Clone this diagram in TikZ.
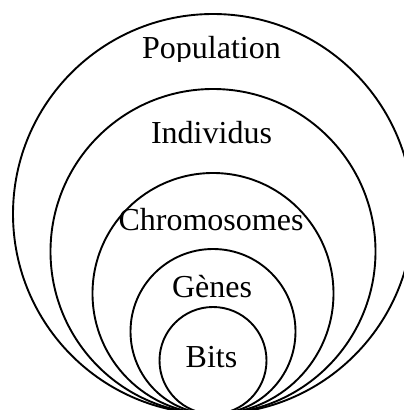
\documentclass[tikz,border=0pt]{standalone}
\usepackage{fontspec}
\setmainfont{Liberation Serif}
\begin{document}
\begin{tikzpicture}[x=1pt,y=-1pt,
  ring/.style={draw,circle,line width=1.9pt,inner sep=0pt},
  lbl/.style={anchor=base,inner sep=0pt,font=\fontsize{32}{36}\selectfont}]
\useasboundingbox (0,0) rectangle (404,410);
\clip (0,0) rectangle (404,410);
\node[ring,minimum size=400pt] (pop) at (213,214) {};
\node[ring,minimum size=325pt] (ind) at (213,251.5) {};
\node[ring,minimum size=241pt] (chr) at (213,293.5) {};
\node[ring,minimum size=165pt] (gen) at (213,331.5) {};
\node[ring,minimum size=107pt] (bit) at (213,360.5) {};
\begin{scope}
\clip (0,0) rectangle (404,61);
\node[lbl] (tpop) at (211.5,58) {Population};
\end{scope}
\node[lbl] (tind) at (211.5,143) {Individus};
\node[lbl] (tchr) at (211,230) {Chromosomes};
\node[lbl] (tgen) at (212,297) {Gènes};
\node[lbl] (tbit) at (211.5,367) {Bits};
\end{tikzpicture}
\end{document}
